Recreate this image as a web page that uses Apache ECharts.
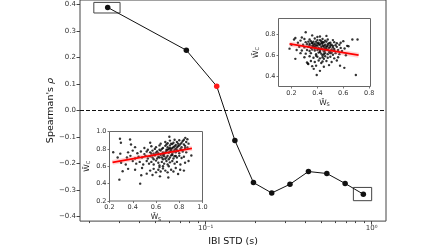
<!DOCTYPE html>
<html><head><meta charset="utf-8">
<script src="https://cdn.jsdelivr.net/npm/echarts@6/dist/echarts.min.js"></script>
<style>html,body{margin:0;padding:0;background:#fff}#c{width:448px;height:252px}</style>
</head><body><div id="c"></div>
<script>
// Main curve
const ibiStd = [0.0257, 0.0765, 0.1166, 0.150, 0.194, 0.250, 0.322, 0.416, 0.537, 0.692, 0.891];
const spearman = [0.389, 0.2275, 0.0917, -0.1127, -0.2716, -0.311, -0.278, -0.230, -0.2375, -0.275, -0.3156];
const redIndex = 2;
const yTicks = [-0.4, -0.3, -0.2, -0.1, 0.0, 0.1, 0.2, 0.3, 0.4];
const xMajor = [0.1, 1];
const xMinor = [0.02,0.03,0.04,0.05,0.06,0.07,0.08,0.09,0.2,0.3,0.4,0.5,0.6,0.7,0.8,0.9];
// highlight boxes [x0, y0, x1, y1]
const boxA = [0.0212, 0.408, 0.0305, 0.368];
const boxB = [0.776, -0.290, 1.0, -0.340];

// Inset 1 (upper right) scatter: W_S, W_C
const insetA = [
[0.31,0.82],[0.36,0.79],[0.42,0.78],[0.47,0.785],[0.28,0.77],[0.23,0.765],[0.40,0.775],
[0.22,0.75],[0.30,0.755],[0.34,0.75],[0.38,0.76],[0.44,0.755],[0.48,0.75],[0.52,0.745],[0.67,0.75],[0.71,0.75],[0.60,0.735],[0.27,0.74],
[0.25,0.72],[0.31,0.725],[0.33,0.73],[0.36,0.72],[0.39,0.73],[0.41,0.72],[0.43,0.735],[0.45,0.725],[0.47,0.73],[0.50,0.72],[0.53,0.725],[0.55,0.715],[0.58,0.72],[0.35,0.735],[0.46,0.74],[0.40,0.745],
[0.20,0.70],[0.29,0.70],[0.32,0.705],[0.34,0.695],[0.37,0.70],[0.38,0.71],[0.42,0.70],[0.44,0.71],[0.46,0.70],[0.48,0.705],[0.51,0.70],[0.54,0.695],[0.57,0.70],[0.63,0.69],[0.36,0.715],[0.43,0.715],[0.49,0.715],
[0.26,0.68],[0.30,0.675],[0.33,0.68],[0.35,0.67],[0.37,0.685],[0.39,0.675],[0.40,0.69],[0.41,0.67],[0.43,0.68],[0.45,0.675],[0.47,0.685],[0.49,0.67],[0.50,0.68],[0.52,0.675],[0.55,0.68],[0.58,0.67],[0.61,0.665],[0.64,0.686],[0.44,0.69],[0.38,0.665],
[0.185,0.663],[0.24,0.65],[0.28,0.645],[0.32,0.65],[0.34,0.64],[0.36,0.655],[0.38,0.645],[0.40,0.65],[0.42,0.64],[0.44,0.655],[0.46,0.645],[0.48,0.65],[0.50,0.64],[0.51,0.655],[0.53,0.645],[0.56,0.65],[0.59,0.64],[0.45,0.635],[0.41,0.66],[0.47,0.66],
[0.27,0.62],[0.31,0.615],[0.35,0.62],[0.39,0.61],[0.41,0.625],[0.43,0.615],[0.44,0.60],[0.46,0.62],[0.48,0.61],[0.50,0.62],[0.52,0.605],[0.54,0.62],[0.57,0.61],[0.62,0.60],[0.42,0.63],[0.49,0.63],
[0.23,0.565],[0.30,0.58],[0.34,0.59],[0.37,0.575],[0.40,0.585],[0.42,0.57],[0.44,0.58],[0.46,0.59],[0.48,0.575],[0.50,0.585],[0.53,0.57],[0.56,0.58],[0.45,0.565],[0.39,0.595],
[0.32,0.53],[0.35,0.545],[0.38,0.535],[0.41,0.55],[0.44,0.54],[0.47,0.545],[0.51,0.535],[0.33,0.515],[0.43,0.525],[0.55,0.55],
[0.327,0.52],[0.372,0.469],[0.39,0.50],[0.45,0.49],[0.575,0.50],[0.608,0.479],[0.49,0.505],[0.36,0.495],
[0.395,0.41],[0.697,0.41],[0.42,0.45],
[0.39,0.695],[0.41,0.705],[0.43,0.665],[0.45,0.69],[0.47,0.675],[0.40,0.715],[0.44,0.725],[0.46,0.665],[0.48,0.69],[0.42,0.655],
[0.38,0.685],[0.36,0.69],[0.50,0.695],[0.52,0.69],[0.34,0.71],[0.37,0.73],[0.42,0.745],[0.53,0.66],[0.51,0.625],[0.45,0.61]
];
const fitA = [[0.185,0.708],[0.718,0.600]];

// Inset 2 (lower left) scatter: W_S, W_C
const insetB = [
[0.29,0.916],[0.377,0.908],[0.298,0.87],[0.385,0.85],[0.715,0.939],[0.852,0.927],[0.87,0.91],[0.80,0.90],[0.78,0.88],[0.83,0.89],[0.86,0.88],[0.75,0.87],[0.68,0.88],[0.72,0.895],[0.82,0.87],[0.88,0.86],[0.64,0.86],[0.70,0.865],[0.55,0.87],[0.76,0.905],[0.84,0.905],[0.79,0.86],
[0.42,0.82],[0.50,0.81],[0.56,0.83],[0.60,0.82],[0.63,0.84],[0.66,0.81],[0.68,0.835],[0.70,0.82],[0.72,0.84],[0.74,0.81],[0.76,0.83],[0.78,0.815],[0.80,0.84],[0.82,0.82],[0.85,0.835],[0.87,0.815],[0.65,0.80],[0.71,0.80],[0.77,0.80],[0.59,0.80],[0.53,0.79],[0.81,0.80],[0.69,0.85],[0.74,0.855],
[0.232,0.761],[0.293,0.745],[0.36,0.76],[0.40,0.78],[0.44,0.75],[0.47,0.77],[0.50,0.74],[0.52,0.77],[0.55,0.76],[0.57,0.78],[0.58,0.745],[0.61,0.77],[0.62,0.75],[0.64,0.78],[0.66,0.76],[0.67,0.74],[0.69,0.775],[0.71,0.755],[0.73,0.78],[0.74,0.745],[0.75,0.77],[0.77,0.76],[0.79,0.775],[0.80,0.75],[0.83,0.77],[0.86,0.76],[0.63,0.79],[0.70,0.79],[0.60,0.755],[0.56,0.745],[0.904,0.723],
[0.27,0.70],[0.35,0.70],[0.38,0.72],[0.42,0.69],[0.45,0.71],[0.48,0.70],[0.51,0.72],[0.53,0.69],[0.55,0.715],[0.57,0.70],[0.59,0.725],[0.61,0.69],[0.62,0.71],[0.64,0.73],[0.65,0.70],[0.67,0.715],[0.68,0.685],[0.70,0.72],[0.72,0.70],[0.73,0.725],[0.75,0.69],[0.76,0.715],[0.78,0.70],[0.80,0.72],[0.82,0.695],[0.84,0.71],[0.66,0.68],[0.71,0.68],[0.58,0.68],
[0.30,0.64],[0.34,0.62],[0.40,0.66],[0.43,0.63],[0.46,0.65],[0.49,0.62],[0.52,0.66],[0.54,0.63],[0.56,0.65],[0.58,0.62],[0.60,0.665],[0.62,0.64],[0.63,0.61],[0.65,0.65],[0.67,0.63],[0.69,0.66],[0.70,0.62],[0.72,0.645],[0.74,0.66],[0.76,0.63],[0.78,0.65],[0.81,0.62],[0.85,0.64],[0.88,0.66],[0.66,0.60],[0.71,0.60],
[0.313,0.542],[0.36,0.57],[0.48,0.58],[0.55,0.55],[0.58,0.57],[0.60,0.53],[0.62,0.56],[0.64,0.54],[0.66,0.575],[0.68,0.55],[0.70,0.53],[0.73,0.56],[0.75,0.54],[0.77,0.58],[0.808,0.56],[0.84,0.55],[0.63,0.59],
[0.285,0.446],[0.464,0.40],[0.473,0.496],[0.634,0.484],[0.706,0.47],[0.57,0.50],[0.79,0.51],[0.52,0.515],[0.42,0.56],
[0.73,0.86],[0.77,0.845],[0.81,0.855],[0.84,0.85],[0.79,0.83],[0.75,0.82],[0.72,0.81],[0.69,0.79],[0.73,0.795],[0.76,0.79],
[0.68,0.76],[0.72,0.77],[0.78,0.785],[0.82,0.79],[0.85,0.81],[0.66,0.73],[0.69,0.70],[0.74,0.73],[0.77,0.72],[0.63,0.70]
];
const fitB = [[0.226,0.645],[0.909,0.807]];

const insetATicksX = [0.2,0.4,0.6,0.8];
const insetATicksY = [0.4,0.6,0.8];
const insetBTicks = [0.2,0.4,0.6,0.8,1.0];

const FONT = 'DejaVu Sans';
const fmt1 = v => (v < -1e-9 ? '\u2212' : '') + Math.abs(v).toFixed(1);
const supers = {'-1':'10\u207B\u00B9','0':'10\u2070'};

function insetAxis(gridIndex, min, max, ticks, nameText, isY) {
  return {
    type: 'value', gridIndex, min, max,
    position: isY ? 'left' : 'bottom',
    splitLine: {show:false},
    axisLine: {show:false, onZero:false},
    axisTick: {show:true, length:2, lineStyle:{color:'#555', width:0.8}, customValues: ticks},
    axisLabel: {fontSize:6.5, color:'#333', fontFamily:FONT, margin:3, customValues: ticks, formatter: fmt1},
    name: nameText, nameLocation:'middle',
    nameGap: isY ? 18 : 12,
    nameTextStyle: {fontFamily:FONT, fontSize:7, color:'#222',
      rich:{w:{fontSize:7.5,fontFamily:FONT,color:'#222'}, s:{fontSize:5,fontFamily:FONT,color:'#222',padding:[4,0,0,0]}}}
  };
}

const main = ibiStd.map((x,i) => i === redIndex
  ? {value:[x, spearman[i]], itemStyle:{color:'#ff1a1a'}}
  : {value:[x, spearman[i]]});

const option = {
  animation:false,
  grid: [
    {left:80, top:0, width:306, height:228, show:true, borderColor:'#444', borderWidth:1, backgroundColor:'#fff'},
    {left:278.5, top:18.5, width:92, height:68, show:true, borderColor:'#666', borderWidth:1, backgroundColor:'#fff', z:5},
    {left:109.5, top:131.5, width:93, height:69.5, show:true, borderColor:'#666', borderWidth:1, backgroundColor:'#fff', z:5}
  ],
  xAxis: [
    {type:'log', gridIndex:0, min:0.0175, max:1.22, logBase:10, position:'bottom',
     splitLine:{show:false}, axisLine:{show:false, onZero:false},
     axisTick:{show:true, length:3.5, lineStyle:{color:'#444'}, customValues:xMajor},
     axisLabel:{fontSize:7, color:'#333', fontFamily:FONT, margin:4, customValues:xMajor,
       formatter: v => supers[String(Math.round(Math.log10(v)))] || ''},
     name:'IBI STD (s)', nameLocation:'middle', nameGap:14,
     nameTextStyle:{fontFamily:FONT, fontSize:9.5, color:'#111'}},
    {type:'log', gridIndex:0, min:0.0175, max:1.22, logBase:10, position:'bottom',
     splitLine:{show:false}, axisLine:{show:false, onZero:false},
     axisTick:{show:true, length:2, lineStyle:{color:'#444'}, customValues:xMinor},
     axisLabel:{show:false}},
    insetAxis(1, 0.1, 0.81, insetATicksX, '{w|W\u0304}{s|S}', false),
    insetAxis(2, 0.2, 1.0, insetBTicks, '{w|W\u0304}{s|S}', false)
  ],
  yAxis: [
    {type:'value', gridIndex:0, min:-0.417, max:0.417, position:'left',
     splitLine:{show:false}, axisLine:{show:false, onZero:false},
     axisTick:{show:true, length:3.5, lineStyle:{color:'#444'}, customValues:yTicks},
     axisLabel:{fontSize:7, color:'#333', fontFamily:FONT, margin:4, customValues:yTicks, formatter:fmt1},
     name:"Spearman's {i|\u03C1}", nameLocation:'middle', nameGap:24, nameMoveOverlap:false,
     nameTextStyle:{fontFamily:FONT, fontSize:9.5, color:'#111', rich:{i:{fontStyle:'italic', fontFamily:FONT, fontSize:9.5, color:'#111'}}}},
    insetAxis(1, 0.30, 0.952, insetATicksY, '{w|W\u0304}{s|C}', true),
    insetAxis(2, 0.2, 1.0, insetBTicks, '{w|W\u0304}{s|C}', true)
  ],
  series: [
    {type:'line', xAxisIndex:0, yAxisIndex:0, data:main, symbol:'circle', symbolSize:5.5,
     lineStyle:{color:'#111', width:1}, itemStyle:{color:'#111'}, z:3,
     markLine:{silent:true, symbol:['none','none'], label:{show:false},
       lineStyle:{color:'#111', type:[4,2], width:1}, data:[{yAxis:0}]},
     markArea:{silent:true, itemStyle:{color:'rgba(0,0,0,0)', borderColor:'#444', borderWidth:1},
       data:[[{xAxis:boxA[0], yAxis:boxA[1]},{xAxis:boxA[2], yAxis:boxA[3]}],
             [{xAxis:boxB[0], yAxis:boxB[1]},{xAxis:boxB[2], yAxis:boxB[3]}]]}},
    {type:'scatter', xAxisIndex:2, yAxisIndex:1, data:insetA, symbolSize:2.4, itemStyle:{color:'#000'}, z:6},
    {type:'line', xAxisIndex:2, yAxisIndex:1, data:fitA, symbol:'none', lineStyle:{color:'rgba(255,90,90,0.25)', width:5}, z:7},
    {type:'line', xAxisIndex:2, yAxisIndex:1, data:fitA, symbol:'none', lineStyle:{color:'#ff0000', width:1.8}, z:8},
    {type:'scatter', xAxisIndex:3, yAxisIndex:2, data:insetB, symbolSize:2.4, itemStyle:{color:'#000'}, z:6},
    {type:'line', xAxisIndex:3, yAxisIndex:2, data:fitB, symbol:'none', lineStyle:{color:'rgba(255,90,90,0.25)', width:5}, z:7},
    {type:'line', xAxisIndex:3, yAxisIndex:2, data:fitB, symbol:'none', lineStyle:{color:'#ff0000', width:1.8}, z:8}
  ]
};
const chart = echarts.init(document.getElementById('c'), null, {renderer:'canvas'});
chart.setOption(option);
</script></body></html>
